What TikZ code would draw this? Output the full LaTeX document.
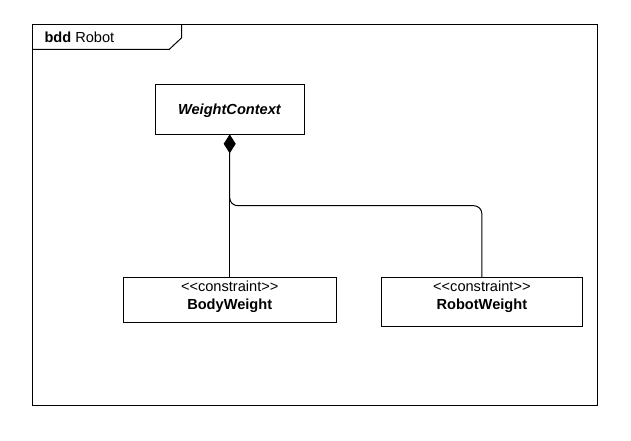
\documentclass[tikz,border=0pt]{standalone}
\usepackage{fontspec}
\setmainfont{Liberation Sans}
\usetikzlibrary{arrows.meta}
\newcommand{\stereo}[1]{<\kern0pt<#1>\kern0pt>}
\begin{document}
\begin{tikzpicture}[x=1pt,y=-1pt,line width=1pt,
  block/.style={draw=black,fill=white,inner sep=0pt,outer sep=0pt},
  lbl/.style={inner sep=0pt,anchor=base,font=\fontsize{14.6}{17}\selectfont},
  conn/.style={draw=black,line width=1pt}]
\useasboundingbox (0,0) rectangle (631,440);
% frame
\node[block,anchor=north west,minimum width=565pt,minimum height=380.3pt] (frame) at (32,24.7) {};
\draw[conn] (frame.north west |- 0,49.3) -- (169.3,49.3) -- (181.7,37.7) -- (181.7,24.7);
\node[lbl,anchor=base west] (title) at (44,42.5) {\textbf{bdd} Robot};
% blocks
\node[block,minimum width=149.3pt,minimum height=49.6pt] (wc) at (229.7,109.5) {};
\node[lbl] (wct) at (229.7,114) {\textbf{\textit{WeightContext}}};
\node[block,minimum width=212.7pt,minimum height=44.7pt] (bw) at (229.7,299.65) {};
\node[lbl] (bws) at (229.7,291) {\stereo{constraint}};
\node[lbl] (bwn) at (229.7,309.3) {\textbf{BodyWeight}};
\node[block,minimum width=200.3pt,minimum height=49.4pt] (rw) at (481.85,302) {};
\node[lbl] (rws) at (481.85,291) {\stereo{constraint}};
\node[lbl] (rwn) at (481.85,309.3) {\textbf{RobotWeight}};
% connectors
\draw[conn,rounded corners=8pt] (wc.south) -- (wc.south |- 0,205.7) -- (rw.north |- 0,205.7) -- (rw.north);
\draw[conn,{Diamond[length=19pt,width=12pt,fill=black]}-] (wc.south) -- (bw.north);
\end{tikzpicture}
\end{document}
